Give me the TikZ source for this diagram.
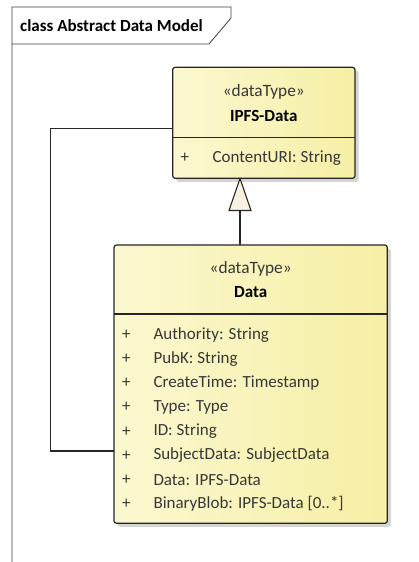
\documentclass[tikz,border=0pt]{standalone}
\usepackage{fontspec}
\setmainfont{Carlito}
\usetikzlibrary{shadows}
\definecolor{boxL}{RGB}{251,248,208}
\definecolor{boxR}{RGB}{246,239,165}
\definecolor{txt}{RGB}{55,55,55}
\definecolor{trifill}{RGB}{250,240,226}
\definecolor{shad}{RGB}{212,212,212}
\begin{document}
\begin{tikzpicture}[x=1pt,y=-1pt,
  classbox/.style={draw=black!85,line width=1.2pt,rounded corners=2.5pt,left color=boxL,right color=boxR,
    drop shadow={shadow xshift=3.5pt,shadow yshift=-3.5pt,fill=shad,opacity=1}},
  stereo/.style={font=\fontsize{17.3}{17}\selectfont,text=txt,inner sep=0pt},
  cname/.style={font=\bfseries\fontsize{17}{17}\selectfont,text=black,inner sep=0pt},
  attr/.style={font=\fontsize{17}{17}\selectfont,text=txt,inner sep=0pt,anchor=west},
  conn/.style={draw=black!85,line width=1.3pt}]
\useasboundingbox (0,0) rectangle (418,562);
\fill[white] (0,0) rectangle (418,562);
% frame
\draw[line width=0.8pt,black!75] (12,562) -- (12,7) -- (231,7) -- (231,18) -- (209,44) -- (12,44);
\node[font=\bfseries\fontsize{17}{17}\selectfont,anchor=west,inner sep=0pt] (title) at (20,26) {class Abstract Data Model};
% IPFS-Data box
\path[classbox] (172.7,67.3) rectangle (355,178.3);
\node (ipfs) at (263.8,122.8) [minimum width=182.3pt,minimum height=111pt,inner sep=0pt] {};
\draw[line width=1.2pt,black!85] (172.7,137.7) -- (355,137.7);
\node[stereo] (ipfsst) at (263.8,92.3) {«dataType»};
\node[cname] (ipfsnm) at (263.8,115.7) {IPFS-Data};
\node[attr] (ipfsplus) at (180.5,157.7) {+};
\node[attr] (ipfsa1) at (212.3,157.7) {ContentURI: String};
% Data box
\path[classbox] (114,245) rectangle (387.3,523.3);
\node (data) at (250.65,384.15) [minimum width=273.3pt,minimum height=278.3pt,inner sep=0pt] {};
\draw[line width=1.2pt,black!85] (114,314) -- (387.3,314);
\node[stereo] (datast) at (250.65,269.3) {«dataType»};
\node[cname] (datanm) at (250.65,292.3) {Data};
\foreach \t [count=\i from 0] in {Authority: String,PubK: String,CreateTime: Timestamp,Type: Type,ID: String,SubjectData: SubjectData,Data: IPFS-Data,BinaryBlob: IPFS-Data [0..*]}{
  \node[attr] (dp\i) at (122,335+24.1*\i) {+};
  \node[attr] (da\i) at (153.3,335+24.1*\i) {\t};
}
% generalization
\coordinate (apex) at (240,178.5);
\coordinate (base) at (240,210.5);
\draw[conn] (base) -- (240,245);
\draw[line width=1.1pt,black!85,fill=trifill,line join=miter] (apex) -- (229,210.5) -- (251,210.5) -- cycle;
% self-referencing association
\draw[conn] (172.7,128.3) -- (50.7,128.3) -- (50.7,451) -- (114,451);
\end{tikzpicture}
\end{document}
